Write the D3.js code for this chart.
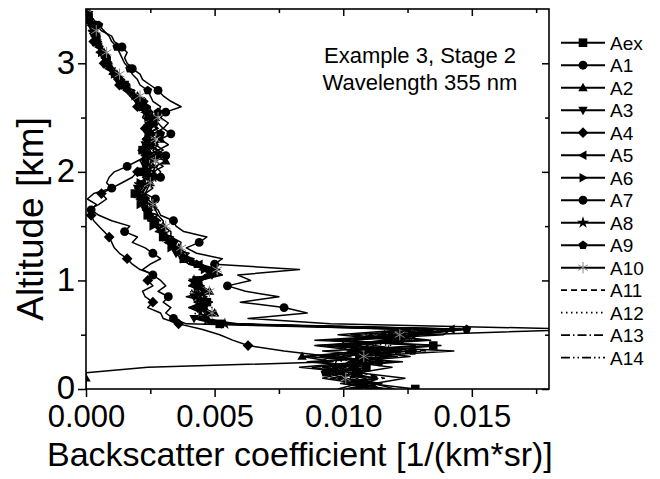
<!DOCTYPE html>
<html><head><meta charset="utf-8">
<script src="https://cdn.jsdelivr.net/npm/d3@7/dist/d3.min.js"></script>
<style>body{margin:0;background:#fff}svg{display:block}text{font-family:"Liberation Sans",Arial,sans-serif;fill:#000}</style>
</head><body>
<script>
// Altitude grid [km]
const altitudes = [0.00,0.05,0.10,0.15,0.20,0.25,0.30,0.35,0.40,0.45,0.50,0.55,0.60,0.65,0.70,0.75,0.80,0.85,0.90,0.95,1.00,1.05,1.10,1.15,1.20,1.25,1.30,1.35,1.40,1.45,1.50,1.55,1.60,1.65,1.70,1.75,1.80,1.85,1.90,1.95,2.00,2.05,2.10,2.15,2.20,2.25,2.30,2.35,2.40,2.45,2.50,2.55,2.60,2.65,2.70,2.75,2.80,2.85,2.90,2.95,3.00,3.05,3.10,3.15,3.20,3.25,3.30,3.35,3.40,3.45,3.50];
const valueUnit = 1e-3; // series values below are in 10^-3 1/(km*sr)
const seriesNames = ["Aex","A1","A2","A3","A4","A5","A6","A7","A8","A9","A10","A11","A12","A13","A14"];
const Aex = [12.8,11.0,10.5,9.8,10.9,8.6,11.8,9.2,13.5,8.9, 12.5,14.6,5.2,4.3,4.9,4.2,4.7,4.1,4.6,4.0, 4.3,5.1,4.7,4.3,3.8,3.7,3.3,3.5,3.0,3.1, 2.7,2.8,2.4,2.5,2.2,2.3,1.9,2.2,2.0,2.5, 2.2,2.6,2.3,2.6,2.2,2.7,2.3,2.6,2.4,2.7, 2.3,2.5,2.2,2.4,1.9,1.7,1.5,1.3,1.1,1.0, 0.8,0.8,0.6,0.6,0.4,0.4,0.3,0.2,0.1,0.1, 0.0];
const A1 = [12.0,11.2,12.4,10.6,11.9,10.2,12.6,11.0,13.8,9.5, 13.0,19.5,9.5,6.3,8.6,7.7,6.0,7.5,6.2,5.5, 6.4,5.9,8.3,5.0,5.3,4.3,3.9,4.4,4.7,3.8, 3.5,3.4,2.9,2.8,2.5,2.7,2.3,2.6,2.4,2.9, 2.6,3.0,2.7,3.1,2.8,3.2,2.9,3.3,3.0,3.2, 2.9,3.1,3.7,3.3,3.0,2.8,2.5,2.2,2.1,1.8, 1.6,1.5,1.6,1.4,1.1,1.0,0.6,0.4,0.2,0.1, 0.1];
const A2 = [0.0,0.0,0.0,0.0,2.4,9.6,8.4,12.2,9.0,13.1, 11.6,14.8,4.8,4.6,5.0,4.5,4.9,4.4,4.8,4.3, 4.4,5.3,4.9,4.5,4.0,3.9,3.6,3.7,3.3,3.3, 3.0,3.0,2.8,2.7,2.6,2.4,2.3,2.4,2.5,2.8, 2.9,2.7,3.1,2.6,3.0,2.7,2.9,2.6,3.0,2.8, 2.7,2.5,2.5,2.2,2.0,1.8,1.5,1.4,1.2,1.1, 0.9,0.8,0.7,0.6,0.5,0.4,0.3,0.2,0.2,0.1, 0.0];
const A3 = [10.5,10.9,9.8,10.4,8.3,10.8,9.9,11.9,9.4,12.3, 10.3,13.8,5.0,4.2,4.5,4.0,4.5,4.2,4.4,4.1, 4.1,4.9,5.0,4.0,3.7,3.5,3.4,3.2,3.1,2.9, 2.8,2.5,2.6,2.3,2.4,2.0,2.1,2.0,2.3,2.3, 2.5,2.3,2.4,2.4,2.5,2.3,2.5,2.4,2.5,2.6, 2.4,2.3,2.1,2.1,1.8,1.6,1.4,1.2,1.1,0.9, 0.9,0.7,0.7,0.5,0.5,0.3,0.3,0.2,0.1,0.1, 0.0];
const A4 = [11.2,10.0,11.3,9.6,10.4,9.1,9.5,7.7,6.3,5.7, 5.2,4.5,3.6,3.0,2.9,2.4,2.6,2.3,2.2,2.6, 2.4,2.7,2.1,1.8,1.6,1.3,1.1,1.0,0.9,0.7, 0.5,0.3,0.2,0.1,0.5,0.8,0.6,1.0,1.4,1.8, 2.0,2.3,2.1,2.4,2.2,2.5,2.2,2.4,2.3,2.5, 2.2,2.3,2.0,1.9,1.7,1.5,1.3,1.2,1.0,0.9, 0.7,0.7,0.5,0.5,0.3,0.3,0.2,0.1,0.1,0.0, 0.0];
const A5 = [10.2,11.5,10.0,9.4,10.6,9.0,12.1,10.3,12.8,10.1, 13.9,14.2,4.6,4.8,4.4,4.6,4.3,4.7,4.2,4.4, 4.0,4.7,5.2,4.4,3.9,3.6,3.5,3.2,3.2,2.9, 2.9,2.6,2.6,2.4,2.5,2.1,2.2,2.3,2.1,2.6, 2.3,2.4,2.6,2.3,2.4,2.6,2.2,2.5,2.5,2.4, 2.6,2.3,2.3,2.0,1.8,1.6,1.4,1.3,1.0,0.9, 0.8,0.7,0.6,0.5,0.4,0.3,0.2,0.2,0.1,0.1, 0.0];
const A6 = [11.8,9.9,11.2,10.3,9.2,11.9,10.6,14.3,9.8,11.6, 12.8,13.2,5.6,4.5,4.8,4.3,4.9,4.2,4.7,4.2, 4.5,5.0,4.6,4.1,3.9,3.6,3.3,3.4,2.9,3.0, 2.6,2.7,2.3,2.4,2.1,2.2,1.9,2.1,2.1,2.4, 2.4,2.5,2.3,2.7,2.4,2.6,2.4,2.7,2.3,2.6, 2.4,2.5,2.3,2.2,1.9,1.7,1.5,1.4,1.1,1.0, 0.9,0.7,0.6,0.5,0.4,0.4,0.3,0.2,0.1,0.1, 0.0];
const A7 = [9.8,10.6,9.2,10.1,8.8,11.4,8.5,10.7,8.9,12.0, 9.8,12.6,3.9,3.4,3.1,3.3,3.0,3.2,2.8,3.1, 2.9,2.6,2.2,2.5,2.9,2.6,2.3,1.8,2.0,1.5, 1.7,1.0,0.5,0.2,0.4,0.05,0.3,1.0,0.8,0.9, 1.1,1.6,2.0,2.4,2.8,2.5,2.7,2.4,2.8,2.6, 2.5,2.6,2.4,2.2,1.9,1.7,1.5,1.3,1.2,1.0, 0.9,0.8,0.7,0.5,0.4,0.4,0.3,0.2,0.1,0.1, 0.0];
const A8 = [10.6,11.3,9.5,10.8,9.7,12.3,9.1,11.2,10.0,13.4, 11.4,12.0,5.4,4.7,4.6,4.5,4.5,4.4,4.3,4.5, 4.2,4.8,4.8,4.2,3.8,3.8,3.4,3.3,3.1,3.0, 2.8,2.7,2.5,2.4,2.3,2.2,2.0,2.2,2.2,2.4, 2.4,2.5,2.4,2.5,2.3,2.5,2.4,2.6,2.4,2.5, 2.5,2.4,2.2,2.1,1.9,1.6,1.5,1.3,1.1,1.0, 0.8,0.7,0.6,0.5,0.4,0.3,0.3,0.2,0.1,0.1, 0.0];
const A9 = [11.0,10.2,10.9,9.3,10.1,10.7,9.8,12.7,11.2,10.4, 12.9,14.8,5.9,4.4,4.7,4.4,4.8,4.3,4.5,4.3, 4.3,4.9,4.5,4.3,4.1,3.7,3.5,3.4,3.2,3.0, 2.8,2.7,2.5,2.5,2.3,2.3,2.1,2.3,2.4,2.6, 2.6,2.7,2.5,2.8,2.6,2.8,2.6,2.9,2.7,2.8, 2.7,2.8,2.9,2.6,2.5,2.4,2.1,2.0,1.8,1.7, 1.5,1.4,1.3,1.2,1.0,0.9,0.7,0.5,0.3,0.1, 0.0];
const A10 = [10.4,10.8,10.1,9.9,9.9,10.2,10.8,11.1,10.9,11.8, 12.2,13.6,5.3,4.2,4.9,4.0,4.9,3.9,4.8,4.0, 4.5,4.6,5.1,4.0,4.2,3.5,3.7,3.1,3.4,2.7, 3.1,2.4,2.8,2.2,2.6,2.0,2.3,1.9,2.5,2.2, 2.7,2.2,2.7,2.3,2.8,2.2,2.7,2.3,2.8,2.3, 2.8,2.2,2.5,1.9,2.1,1.5,1.7,1.1,1.3,0.8, 1.0,0.6,0.8,0.4,0.6,0.2,0.4,0.1,0.2,0.0, 0.0];
const A11 = [11.4,10.3,11.6,10.7,9.4,11.2,10.2,13.2,10.5,12.9, 11.2,14.0,5.1,4.6,4.5,4.4,4.6,4.3,4.4,4.2, 4.3,5.0,4.7,4.2,3.9,3.6,3.4,3.3,3.0,3.0, 2.7,2.7,2.4,2.5,2.2,2.3,2.0,2.2,2.1,2.5, 2.3,2.6,2.3,2.6,2.3,2.6,2.3,2.6,2.4,2.6, 2.4,2.4,2.2,2.2,1.9,1.7,1.5,1.3,1.1,1.0, 0.8,0.7,0.6,0.5,0.4,0.3,0.3,0.2,0.1,0.1, 0.0];
const A12 = [10.9,11.1,9.9,10.5,9.8,9.7,11.3,10.4,11.9,9.6, 12.0,13.4,5.0,4.8,4.2,4.9,4.2,4.6,4.0,4.6, 4.0,5.2,4.5,4.5,3.6,4.0,3.2,3.6,2.9,3.2, 2.6,2.9,2.3,2.7,2.1,2.5,1.8,2.4,1.9,2.7, 2.2,2.8,2.2,2.8,2.1,2.7,2.2,2.8,2.2,2.7, 2.3,2.6,2.0,2.3,1.7,1.9,1.3,1.5,0.9,1.2, 0.7,0.9,0.5,0.7,0.3,0.5,0.2,0.3,0.1,0.1, 0.0];
const A13 = [11.6,10.7,10.4,10.0,9.6,10.9,9.4,12.5,9.7,13.0, 10.8,13.0,5.3,4.3,5.0,4.2,4.9,4.1,4.8,4.1, 4.6,4.7,4.9,4.1,4.1,3.5,3.7,3.1,3.3,2.8, 3.0,2.5,2.7,2.2,2.5,2.0,2.2,2.0,2.4,2.2, 2.6,2.3,2.6,2.3,2.6,2.4,2.6,2.3,2.6,2.4, 2.7,2.2,2.4,1.9,2.1,1.5,1.7,1.1,1.3,0.8, 1.0,0.6,0.8,0.4,0.5,0.2,0.4,0.1,0.2,0.0, 0.0];
const A14 = [10.1,11.0,10.3,10.2,9.3,10.5,10.0,11.5,10.2,12.4, 11.8,14.4,5.5,4.8,4.4,4.7,4.2,4.6,4.1,4.6, 4.0,5.2,4.4,4.5,3.7,4.0,3.2,3.5,2.9,3.2, 2.6,2.9,2.3,2.6,2.1,2.4,1.8,2.3,1.9,2.6, 2.2,2.7,2.2,2.7,2.2,2.7,2.2,2.7,2.2,2.7, 2.3,2.6,2.0,2.3,1.7,1.9,1.3,1.5,0.9,1.1, 0.6,0.9,0.4,0.7,0.2,0.5,0.1,0.3,0.0,0.1, 0.0];
const seriesValues = [Aex,A1,A2,A3,A4,A5,A6,A7,A8,A9,A10,A11,A12,A13,A14];
const xMajorTicks = [0, 0.005, 0.010, 0.015];
const xTickLabels = ["0.000","0.005","0.010","0.015"];
const xMinorTicks = [0.0025, 0.0075, 0.0125, 0.0175];
const yMajorTicks = [0, 1, 2, 3];
const yTickLabels = ["0","1","2","3"];
const yMinorTicks = [0.5, 1.5, 2.5];
const xTitle = "Backscatter coefficient [1/(km*sr)]";
const yTitle = "Altitude [km]";
const noteLines = ["Example 3, Stage 2", "Wavelength 355 nm"];

// styles
const markerKinds = ["square","circle","triUp","triDown","diamond","triLeft","triRight","circle","star","pentagon","asterisk","none","none","none","none"];
const dashes = [null,null,null,null,null,null,null,null,null,null,null,"6,4","1.5,3.5","9,3,1.5,3","9,3,1.5,3,1.5,3"];

const W = 660, H = 479;
const L = 86, R = 549, T = 9, B = 389;
const svg = d3.select("body").append("svg").attr("width", W).attr("height", H);
svg.append("rect").attr("width", W).attr("height", H).attr("fill", "#fff");

const x = d3.scaleLinear().domain([0, 0.018]).range([L, R]);
const y = d3.scaleLinear().domain([0, 3.5]).range([B, T]);

svg.append("defs").append("clipPath").attr("id", "clip")
  .append("rect").attr("x", L).attr("y", T).attr("width", R - L).attr("height", B - T);

function markerPath(kind) {
  const s = 4.3;
  switch (kind) {
    case "square": return `M${-s},${-s}H${s}V${s}H${-s}Z`;
    case "circle": return d3.symbol(d3.symbolCircle, 62)();
    case "triUp": return `M0,${-s*1.15}L${s*1.1},${s*0.8}L${-s*1.1},${s*0.8}Z`;
    case "triDown": return `M0,${s*1.15}L${s*1.1},${-s*0.8}L${-s*1.1},${-s*0.8}Z`;
    case "triLeft": return `M${-s*1.15},0L${s*0.8},${s*1.1}L${s*0.8},${-s*1.1}Z`;
    case "triRight": return `M${s*1.15},0L${-s*0.8},${s*1.1}L${-s*0.8},${-s*1.1}Z`;
    case "diamond": return `M0,${-s*1.25}L${s*1.25},0L0,${s*1.25}L${-s*1.25},0Z`;
    case "star": return d3.symbol(d3.symbolStar, 45)();
    case "pentagon": {
      const pts = d3.range(5).map(k => { const a = -Math.PI/2 + k*2*Math.PI/5; return [Math.cos(a)*s*1.1, Math.sin(a)*s*1.1]; });
      return "M" + pts.map(p => p.join(",")).join("L") + "Z";
    }
    case "asterisk": return d3.symbol(d3.symbolAsterisk, 90)();
  }
  return null;
}

const line = d3.line().x(d => x(d[1])).y(d => y(d[0]));
const plot = svg.append("g").attr("clip-path", "url(#clip)");

seriesValues.forEach((vals, si) => {
  const n = Math.min(vals.length, altitudes.length);
  const pts = d3.range(n).map(i => [altitudes[i], vals[i] * valueUnit]);
  const p = plot.append("path").datum(pts).attr("d", line)
    .attr("fill", "none").attr("stroke", "#000").attr("stroke-width", 1.5)
    .attr("stroke-linejoin", "round");
  if (dashes[si]) p.attr("stroke-dasharray", dashes[si]);
});
seriesValues.forEach((vals, si) => {
  const kind = markerKinds[si];
  const mp = markerPath(kind);
  if (!mp) return;
  const n = Math.min(vals.length, altitudes.length);
  const idx = d3.range(n).filter(i => (i + si) % 4 === 0);
  plot.selectAll(null).data(idx).join("path")
    .attr("transform", i => `translate(${x(vals[i]*valueUnit)},${y(altitudes[i])})`)
    .attr("d", mp)
    .attr("fill", kind === "asterisk" ? "none" : "#000")
    .attr("stroke", kind === "asterisk" ? "#888" : "none")
    .attr("stroke-width", 1);
});

// axes
const axG = svg.append("g");
function styleAxis(g) { g.select(".domain").remove(); g.selectAll("line").attr("stroke", "#000").attr("stroke-width", 1.5); }
axG.append("g").attr("transform", `translate(0,${B})`)
  .call(d3.axisBottom(x).tickValues(xMajorTicks).tickSize(8).tickPadding(6).tickFormat((d, i) => xTickLabels[i]))
  .call(styleAxis)
  .call(g => g.selectAll("text").attr("font-size", 31).attr("font-family", "Liberation Sans, Arial, sans-serif").attr("fill", "#000").attr("dy", "0.76em"));
axG.append("g").attr("transform", `translate(0,${B})`)
  .call(d3.axisBottom(x).tickValues(xMinorTicks).tickSize(5).tickFormat("")).call(styleAxis);
axG.append("g").attr("transform", `translate(0,${T})`)
  .call(d3.axisBottom(x).tickValues(xMajorTicks).tickSize(7).tickFormat("")).call(styleAxis);
axG.append("g").attr("transform", `translate(0,${T})`)
  .call(d3.axisBottom(x).tickValues(xMinorTicks).tickSize(4).tickFormat("")).call(styleAxis);
axG.append("g").attr("transform", `translate(${L},0)`)
  .call(d3.axisLeft(y).tickValues(yMajorTicks).tickSize(8).tickPadding(3).tickFormat((d, i) => yTickLabels[i]))
  .call(styleAxis)
  .call(g => g.selectAll("text").attr("font-size", 33).attr("font-family", "Liberation Sans, Arial, sans-serif").attr("fill", "#000").attr("dy", "0.3em"));
axG.append("g").attr("transform", `translate(${L},0)`)
  .call(d3.axisLeft(y).tickValues(yMinorTicks).tickSize(5).tickFormat("")).call(styleAxis);
axG.append("g").attr("transform", `translate(${R},0)`)
  .call(d3.axisLeft(y).tickValues(yMajorTicks).tickSize(7).tickFormat("")).call(styleAxis);
axG.append("g").attr("transform", `translate(${R},0)`)
  .call(d3.axisLeft(y).tickValues(yMinorTicks).tickSize(4).tickFormat("")).call(styleAxis);

svg.append("rect").attr("x", L).attr("y", T).attr("width", R - L).attr("height", B - T)
  .attr("fill", "none").attr("stroke", "#000").attr("stroke-width", 1.6);

// titles
svg.append("text").attr("x", 47).attr("y", 466).attr("font-size", 34).text(xTitle);
svg.append("text").attr("transform", "translate(43,219) rotate(-90)").attr("text-anchor", "middle")
  .attr("font-size", 37).text(yTitle);

// note
noteLines.forEach((t, i) => {
  svg.append("text").attr("x", 420).attr("y", 63 + i * 27).attr("text-anchor", "middle")
    .attr("font-size", 22).text(t);
});

// legend
const lg = svg.append("g");
seriesNames.forEach((name, i) => {
  const yy = 42.7 + i * 22.5;
  const g = lg.append("g").attr("transform", `translate(0,${yy})`);
  const ln = g.append("line").attr("x1", 561).attr("x2", 605).attr("y1", 0).attr("y2", 0)
    .attr("stroke", "#000").attr("stroke-width", i < 11 ? 2 : 1.8);
  if (dashes[i]) ln.attr("stroke-dasharray", dashes[i]);
  const mp = markerPath(markerKinds[i]);
  if (mp) g.append("path").attr("transform", "translate(583,0)").attr("d", mp)
    .attr("fill", markerKinds[i] === "asterisk" ? "none" : "#000")
    .attr("stroke", markerKinds[i] === "asterisk" ? "#888" : "none");
  g.append("text").attr("x", 610).attr("y", 7).attr("font-size", 19).text(name);
});
</script>
</body></html>
